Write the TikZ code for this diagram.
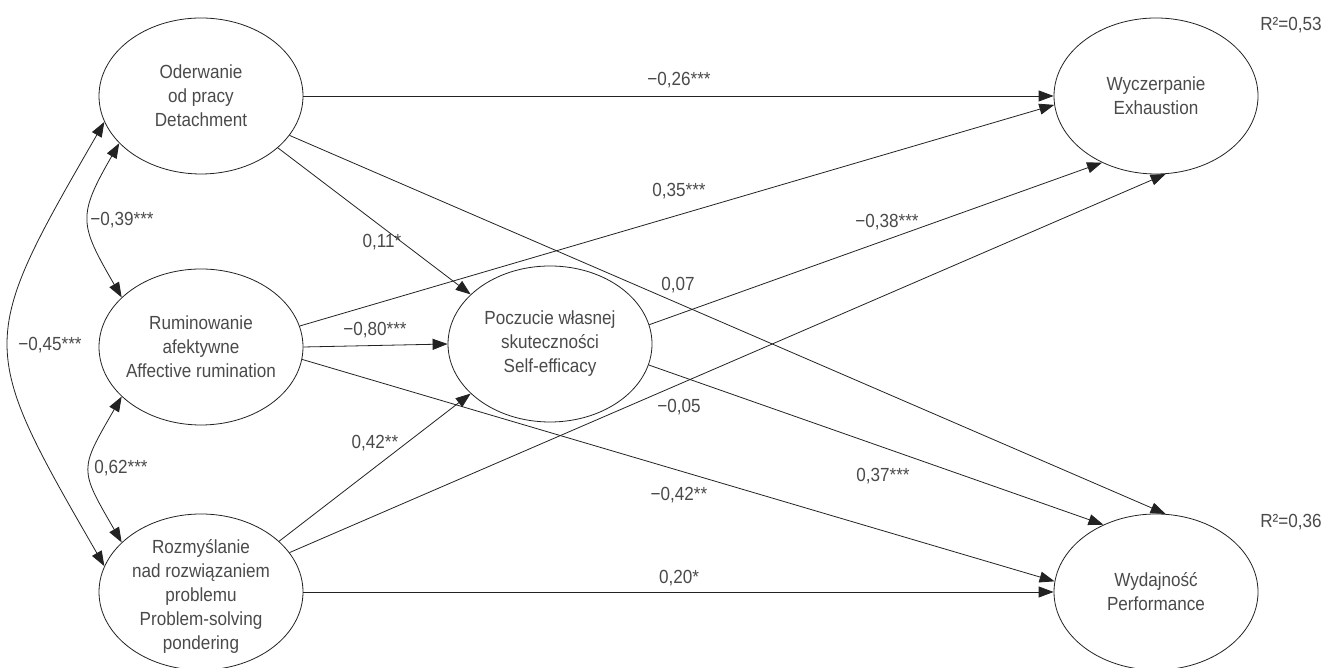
\documentclass[tikz,border=0pt]{standalone}
\usepackage{fontspec}
\setmainfont{Liberation Sans}[FakeStretch=0.9]
\usetikzlibrary{arrows.meta,shapes.geometric}
\definecolor{ink}{HTML}{222222}
\definecolor{txtgray}{HTML}{4A4A4A}

\begin{document}
\begin{tikzpicture}[x=1pt,y=1pt,
  latent/.style={draw=ink, line width=0.8pt, ellipse, minimum width=204pt,
    minimum height=156pt, inner sep=0pt},
  caption/.style={align=center, text=txtgray, inner sep=0pt,
    font=\fontsize{19}{24}\selectfont},
  coef/.style={text=txtgray, inner sep=0pt, font=\fontsize{19}{22}\selectfont},
  path/.style={draw=ink, line width=0.8pt, -{Triangle[length=15pt,width=11pt]}},
  cov/.style={draw=ink, line width=0.8pt,
    {Triangle[length=15pt,width=11pt]}-{Triangle[length=15pt,width=11pt]}}]

\useasboundingbox (0,0) rectangle (1322,668);

% latent variables
\node[latent] (det)  at (201,572) {};
\node[latent] (rum)  at (201,321) {};
\node[latent] (pond) at (201,76)  {};
\node[latent] (se)   at (550,324) {};
\node[latent] (exh)  at (1156,572) {};
\node[latent] (perf) at (1156,76)  {};

\node[caption] (detT)  at (det)  {Oderwanie\\od pracy\\Detachment};
\node[caption] (rumT)  at (rum)  {Ruminowanie\\afektywne\\Affective rumination};
\node[caption] (pondT) at ([yshift=-4pt]pond) {Rozmyślanie\\nad rozwiązaniem\\problemu\\Problem-solving\\pondering};
\node[caption] (seT)   at (se)   {Poczucie własnej\\skuteczności\\Self-efficacy};
\node[caption] (exhT)  at (exh)  {Wyczerpanie\\Exhaustion};
\node[caption] (perfT) at (perf) {Wydajność\\Performance};

% explained variance
\node[coef] (r2exh)  at (1291,643) {R²=0,53};
\node[coef] (r2perf) at (1291,146) {R²=0,36};

% structural paths
\draw[path] (det.east) -- (exh.west);
\draw[path] (rum.12)   -- (exh.185);
\draw[path] (rum.east) -- (se.west);
\draw[path] (rum.353)  -- (perf.174);
\draw[path] (det.326)  -- (se.148);
\draw[path] (det.336)  -- (perf.83);
\draw[path] (pond.33)  -- (se.212);
\draw[path] (pond.24)  -- (exh.277);
\draw[path] (pond.east) -- (perf.west);
\draw[path] (se.11)    -- (exh.231);
\draw[path] (se.348)   -- (perf.128);

% correlations between predictors
\draw[cov] (det.210) to[out=240,in=120,looseness=1.4] (rum.148);
\draw[cov] (rum.212) to[out=240,in=120,looseness=1.5] (pond.148);
\draw[cov] (det.195) to[out=240,in=120,looseness=1.47] (pond.165);

% coefficients
\node[coef] (c1)  at (679,588) {−0,26***};
\node[coef] (c2)  at (679,477) {0,35***};
\node[coef] (c3)  at (375,338) {−0,80***};
\node[coef] (c4)  at (679,173) {−0,42**};
\node[coef] (c5)  at (382,426) {0,11*};
\node[coef] (c6)  at (678,383) {0,07};
\node[coef] (c7)  at (375,225) {0,42**};
\node[coef] (c8)  at (679,261) {−0,05};
\node[coef] (c9)  at (679,90)  {0,20*};
\node[coef] (c10) at (887,446) {−0,38***};
\node[coef] (c11) at (883,192) {0,37***};
\node[coef] (c12) at (122,448) {−0,39***};
\node[coef] (c13) at (121,200) {0,62***};
\node[coef] (c14) at (50,323)  {−0,45***};
\end{tikzpicture}
\end{document}
